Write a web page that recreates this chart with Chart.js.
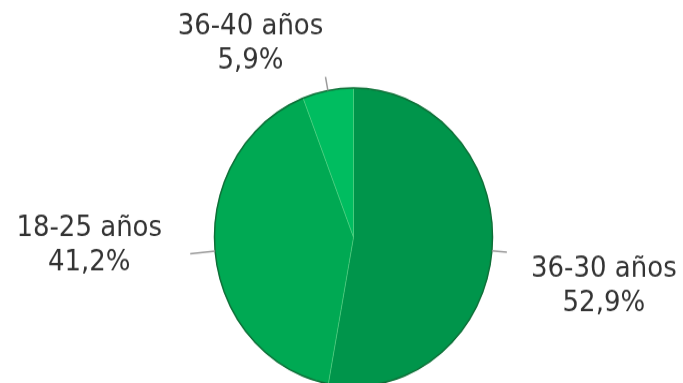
<!DOCTYPE html>
<html lang="es">
<head>
    <meta charset="UTF-8">
    <title>Edades</title>
    <script src="https://cdn.jsdelivr.net/npm/chart.js@4.4.8/dist/chart.umd.min.js"></script>
    <style>
        body { margin: 0; background: #fff; }
        /* drawing buffer is a bit shorter than the box, so the pie comes out slightly tall */
        #ageChart { display: block; width: 683px !important; height: 383px !important; }
    </style>
</head>
<body>
<canvas id="ageChart" width="683" height="357"></canvas>

<script>
    const ageGroups = ['36-30 años', '18-25 años', '36-40 años'];
    const percents = [52.9, 41.2, 5.9];
    const sliceColors = ['#00954b', '#00a953', '#00bd60'];

    // leader length and where the label block sits, measured from the leader end
    const leaderLen = [15, 25, 13];
    const labelShift = [[97, 32], [-101, -7], [-75, -30]];

    const pieLabels = {
        id: 'pieLabels',
        afterDatasetsDraw(chart) {
            const ctx = chart.ctx;
            const arcs = chart.getDatasetMeta(0).data;
            ctx.save();

            // outline around the whole pie
            const a0 = arcs[0];
            ctx.beginPath();
            ctx.arc(a0.x, a0.y, a0.outerRadius, 0, Math.PI * 2);
            ctx.strokeStyle = '#0c6f37';
            ctx.lineWidth = 1.5;
            ctx.stroke();

            arcs.forEach((arc, i) => {
                const mid = (arc.startAngle + arc.endAngle) / 2;
                const x0 = arc.x + Math.cos(mid) * arc.outerRadius;
                const y0 = arc.y + Math.sin(mid) * arc.outerRadius;
                const x1 = x0 + Math.cos(mid) * leaderLen[i];
                const y1 = y0 + Math.sin(mid) * leaderLen[i];

                ctx.beginPath();
                ctx.moveTo(x0, y0);
                ctx.lineTo(x1, y1);
                ctx.strokeStyle = '#9a9a9a';
                ctx.lineWidth = 1.5;
                ctx.stroke();

                const cx = x1 + labelShift[i][0];
                const cy = y1 + labelShift[i][1];
                ctx.fillStyle = '#333333';
                ctx.font = '26px "DejaVu Sans"';
                ctx.textAlign = 'center';
                ctx.textBaseline = 'middle';
                ctx.fillText(ageGroups[i], cx, cy - 16);
                ctx.fillText(percents[i].toFixed(1).replace('.', ',') + '%', cx, cy + 16);
            });
            ctx.restore();
        }
    };

    new Chart(document.getElementById('ageChart'), {
        type: 'pie',
        data: {
            labels: ageGroups,
            datasets: [{
                data: percents,
                backgroundColor: sliceColors,
                borderColor: 'rgba(90, 210, 130, 0.45)',
                borderWidth: 1,
                radius: 139
            }]
        },
        options: {
            responsive: false,
            animation: false,
            layout: { padding: { left: 24, right: 0, top: 85, bottom: 0 } },
            plugins: {
                legend: { display: false },
                tooltip: { enabled: false }
            }
        },
        plugins: [pieLabels]
    });
</script>
</body>
</html>
